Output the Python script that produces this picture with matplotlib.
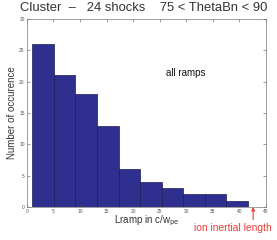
import matplotlib.pyplot as plt

plt.rcParams["font.family"] = ["Liberation Sans", "DejaVu Sans"]

# histogram of ramp widths (Matlab-style hist, 10 bins)
bin_left = [1.05, 5.1, 9.15, 13.2, 17.25, 21.3, 25.35, 29.4, 33.45, 37.5]
bin_width = 4.05
counts = [26, 21, 18, 13, 6, 4, 3, 2, 2, 1]

x_ticks = [0, 5, 10, 15, 20, 25, 30, 35, 40, 45]
y_ticks = [0, 5, 10, 15, 20, 25, 30]
ion_inertial = 42.6

fig = plt.figure(figsize=(2.77, 2.40), dpi=100)
ax = fig.add_axes([0.097, 0.1375, 0.863, 0.7835])

ax.bar(bin_left, counts, width=bin_width, align="edge",
       color="#2f2f8f", edgecolor="#1c1c50", linewidth=0.5)

ax.set_xlim(0, 45)
ax.set_ylim(0, 30)
ax.set_xticks(x_ticks)
ax.set_yticks(y_ticks)
ax.tick_params(direction="in", length=2, width=0.4, labelsize=3.5,
               top=True, right=True, pad=1.5, colors="#555555")
for s in ax.spines.values():
    s.set_linewidth(0.5)
    s.set_color("#777777")

ax.set_ylabel("Number of occurence", fontsize=7, labelpad=2, color="#333333")
ax.set_xlabel(r"Lramp in c/w$_{\rm pe}$", fontsize=7, labelpad=0, color="#333333")

fig.text(0.517, 0.965, "Cluster  \u2013   24 shocks    75 < ThetaBn < 90",
         ha="center", va="center", fontsize=9.4, color="#333333")

ax.text(30, 21.4, "all ramps", ha="center", va="center", fontsize=7, color="#111111")

# red marker for the ion inertial length
ax.annotate("", xy=(ion_inertial, 0), xycoords="data",
            xytext=(ion_inertial, -2.0), textcoords="data",
            arrowprops=dict(arrowstyle="-|>", color="#e8403a", lw=0.8,
                            mutation_scale=5, shrinkA=0, shrinkB=0),
            annotation_clip=False)
fig.text(0.84, 0.048, "ion inertial length", ha="center", va="center",
         fontsize=7.4, color="#e8403a")

fig.savefig("out.png", dpi=100)
